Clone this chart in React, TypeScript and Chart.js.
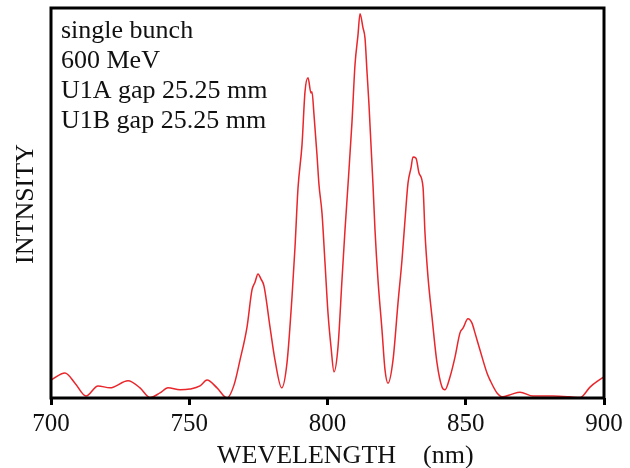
import React, { useEffect, useRef } from "react";
import { Chart, registerables } from "chart.js";

Chart.register(...registerables);

const wavelength = [
  700.0, 705.06, 708.68, 712.66, 717.0, 721.34, 727.85, 732.19, 735.8, 739.42, 742.31, 746.65, 750.27, 753.89,
  756.42, 760.04, 763.65, 766.18, 768.35, 770.89, 772.69, 773.78, 774.87, 775.95, 777.04, 779.21, 781.02, 783.44,
  785.35, 787.16, 788.25, 789.33, 790.78, 791.86, 792.95, 794.03, 794.39, 795.12, 796.2, 796.93, 798.01, 799.1,
  800.18, 801.27, 802.35, 803.8, 805.24, 806.33, 807.41, 808.86, 809.94, 811.03, 811.75, 812.84, 813.56, 814.29,
  815.01, 816.46, 817.18, 818.26, 819.71, 820.8, 821.88, 823.69, 825.5, 826.94, 828.03, 829.11, 830.2, 830.92,
  832.01, 833.09, 834.54, 835.26, 836.35, 837.79, 839.6, 841.41, 842.49, 844.3, 846.11, 847.92, 849.0, 850.81,
  852.26, 853.34, 855.15, 857.68, 858.77, 861.3, 863.47, 866.73, 869.62, 874.32, 881.56, 887.7, 891.32, 894.94,
  897.83, 900.0,
];
const intensity = [
  0.046, 0.064, 0.038, 0.005, 0.031, 0.026, 0.044, 0.026, 0.001, 0.013, 0.026, 0.021, 0.023, 0.031,
  0.046, 0.026, 0.0, 0.033, 0.097, 0.182, 0.277, 0.297, 0.318, 0.305, 0.287, 0.182, 0.097, 0.026,
  0.09, 0.259, 0.387, 0.538, 0.649, 0.785, 0.821, 0.782, 0.785, 0.726, 0.623, 0.546, 0.474, 0.346,
  0.218, 0.131, 0.067, 0.131, 0.303, 0.431, 0.546, 0.708, 0.854, 0.931, 0.985, 0.949, 0.923, 0.836,
  0.751, 0.546, 0.431, 0.303, 0.174, 0.072, 0.038, 0.097, 0.244, 0.354, 0.456, 0.551, 0.59, 0.618,
  0.615, 0.577, 0.541, 0.423, 0.31, 0.208, 0.09, 0.028, 0.021, 0.054, 0.105, 0.167, 0.179, 0.203,
  0.192, 0.167, 0.123, 0.064, 0.046, 0.013, 0.003, 0.01, 0.015, 0.005, 0.005, 0.003, 0.001, 0.028,
  0.044, 0.054,
];
const xTicks = [700, 750, 800, 850, 900];
const annotationLines = ["single bunch", "600 MeV", "U1A gap 25.25 mm", "U1B gap 25.25 mm"];
const xTitleMain = "WEVELENGTH";
const xTitleUnit = "(nm)";
const yTitle = "INTNSITY";

const FONT = "'Liberation Serif', 'Times New Roman', serif";

const framePlugin = {
  id: "frameAndText",
  afterDraw(chart: any) {
    const { ctx, chartArea } = chart;
    const { left, right, top, bottom } = chartArea;
    ctx.save();
    ctx.strokeStyle = "#000";
    ctx.lineWidth = 3;
    ctx.strokeRect(left, top, right - left, bottom - top);

    ctx.fillStyle = "#111";
    ctx.font = `26px ${FONT}`;
    ctx.textBaseline = "alphabetic";
    ctx.textAlign = "left";
    annotationLines.forEach((t, i) => {
      ctx.fillText(t, left + 10, top + 30 + i * 30);
    });

    ctx.font = `26px ${FONT}`;
    ctx.fillText(xTitleMain, 217, 463);
    ctx.fillText(xTitleUnit, 423, 463);

    ctx.translate(33, 204);
    ctx.rotate(-Math.PI / 2);
    ctx.textAlign = "center";
    ctx.fillText(yTitle, 0, 0);
    ctx.restore();
  },
};

export default function App() {
  const ref = useRef<HTMLCanvasElement>(null);
  useEffect(() => {
    document.body.style.margin = "0";
    const points = wavelength.map((x, i) => ({ x, y: intensity[i] }));
    const chart = new Chart(ref.current!, {
      type: "line",
      data: {
        datasets: [
          {
            data: points,
            borderColor: "#e8262b",
            borderWidth: 1.5,
            pointRadius: 0,
            fill: false,
            cubicInterpolationMode: "monotone",
          },
        ],
      },
      options: {
        responsive: false,
        animation: false,
        layout: { padding: { left: 51, right: 26, top: 8, bottom: 25 } },
        plugins: { legend: { display: false }, tooltip: { enabled: false } },
        scales: {
          x: {
            type: "linear",
            min: 700,
            max: 900,
            afterBuildTicks: (axis: any) => {
              axis.ticks = xTicks.map((v) => ({ value: v }));
            },
            grid: { drawOnChartArea: false, color: "#000", lineWidth: 3, tickLength: 7 },
            border: { display: false },
            ticks: { color: "#111", font: { family: FONT, size: 25 }, padding: 4, maxRotation: 0 },
          },
          y: { display: false, min: 0, max: 1 },
        },
      },
      plugins: [framePlugin],
    });
    return () => chart.destroy();
  }, []);
  return (
    <div style={{ width: 630, height: 468 }}>
      <canvas ref={ref} width={630} height={468} />
    </div>
  );
}
